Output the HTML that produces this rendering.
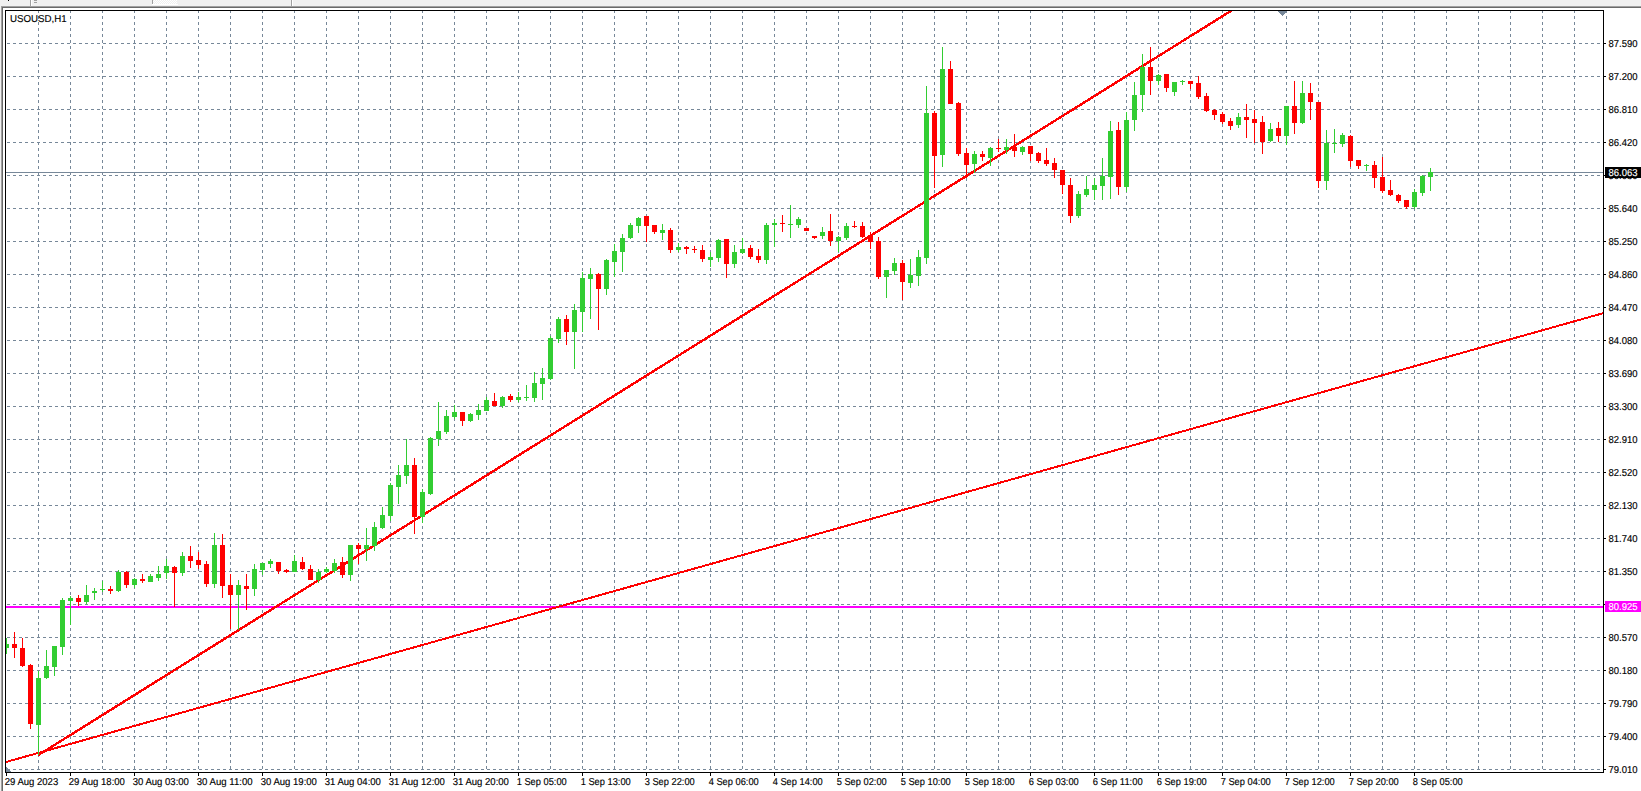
<!DOCTYPE html><html><head><meta charset="utf-8"><title>USOUSD,H1</title><style>
html,body{margin:0;padding:0;background:#fff;width:1641px;height:791px;overflow:hidden}
svg{display:block;font-family:"Liberation Sans",sans-serif}
</style></head><body>
<svg width="1641" height="791" viewBox="0 0 1641 791">
<rect x="0" y="0" width="1641" height="791" fill="#fff"/>
<g shape-rendering="crispEdges">
<rect x="0" y="0" width="1641" height="6" fill="#F0F0F0"/>
<rect x="0" y="6" width="1641" height="1" fill="#A0A0A0"/>
<rect x="1" y="7" width="1640" height="1" fill="#696969"/>
<rect x="0" y="6" width="1" height="785" fill="#F0F0F0"/>
<rect x="1" y="6" width="1" height="785" fill="#A0A0A0"/>
<rect x="2" y="7" width="1" height="784" fill="#696969"/>
<rect x="30" y="0" width="1" height="6" fill="#A0A0A0"/><rect x="31" y="0" width="1" height="6" fill="#FFFFFF"/>
<rect x="34" y="0" width="3" height="1" fill="#A0A0A0"/><rect x="34" y="2" width="3" height="1" fill="#A0A0A0"/>
<rect x="8" y="0" width="1" height="1" fill="#000"/>
<defs><pattern id="chk" x="0" y="0" width="2" height="2" patternUnits="userSpaceOnUse"><rect width="2" height="2" fill="#F0F0F0"/><rect width="1" height="1" fill="#FFFFFF"/><rect x="1" y="1" width="1" height="1" fill="#FFFFFF"/></pattern></defs>
<rect x="152" y="0" width="1" height="4" fill="#A0A0A0"/><rect x="153" y="0" width="24" height="4" fill="url(#chk)"/><rect x="152" y="4" width="26" height="1" fill="#FFFFFF"/>
<rect x="291" y="0" width="1" height="6" fill="#A0A0A0"/><rect x="292" y="0" width="1" height="6" fill="#FFFFFF"/>
</g>
<defs><clipPath id="ch"><rect x="6" y="11" width="1597" height="761"/></clipPath></defs>
<g clip-path="url(#ch)" shape-rendering="crispEdges">
<path d="M38.5 10V772M70.5 10V772M102.5 10V772M134.5 10V772M166.5 10V772M198.5 10V772M230.5 10V772M262.5 10V772M294.5 10V772M326.5 10V772M358.5 10V772M390.5 10V772M422.5 10V772M454.5 10V772M486.5 10V772M518.5 10V772M550.5 10V772M582.5 10V772M614.5 10V772M646.5 10V772M678.5 10V772M710.5 10V772M742.5 10V772M774.5 10V772M806.5 10V772M838.5 10V772M870.5 10V772M902.5 10V772M934.5 10V772M966.5 10V772M998.5 10V772M1030.5 10V772M1062.5 10V772M1094.5 10V772M1126.5 10V772M1158.5 10V772M1190.5 10V772M1222.5 10V772M1254.5 10V772M1286.5 10V772M1318.5 10V772M1350.5 10V772M1382.5 10V772M1414.5 10V772M1446.5 10V772M1478.5 10V772M1510.5 10V772M1542.5 10V772M1574.5 10V772" stroke="#778899" stroke-width="1" stroke-dasharray="3 3" fill="none"/>
<path d="M1 43.5H1603M1 76.5H1603M1 109.5H1603M1 142.5H1603M1 175.5H1603M1 208.5H1603M1 241.5H1603M1 274.5H1603M1 307.5H1603M1 340.5H1603M1 373.5H1603M1 406.5H1603M1 439.5H1603M1 472.5H1603M1 505.5H1603M1 538.5H1603M1 571.5H1603M1 604.5H1603M1 637.5H1603M1 670.5H1603M1 703.5H1603M1 736.5H1603M1 769.5H1603" stroke="#778899" stroke-width="1" stroke-dasharray="3 3" fill="none"/>
<rect x="6" y="172" width="1597" height="1" fill="#778899"/>
<rect x="6" y="606" width="1597" height="2" fill="#FF00FF"/>
<line x1="0" y1="763.69" x2="1603" y2="313.24" stroke="#FF0000" stroke-width="2"/>
<line x1="38" y1="755.25" x2="1300" y2="-32.24" stroke="#FF0000" stroke-width="2.4"/>
<rect x="6" y="638" width="1" height="16" fill="#32CD32"/>
<rect x="4" y="644" width="5" height="4" fill="#32CD32"/>
<rect x="14" y="632" width="1" height="26" fill="#FF0000"/>
<rect x="12" y="644" width="5" height="4" fill="#FF0000"/>
<rect x="22" y="638" width="1" height="29" fill="#FF0000"/>
<rect x="20" y="648" width="5" height="18" fill="#FF0000"/>
<rect x="30" y="664" width="1" height="65" fill="#FF0000"/>
<rect x="28" y="665" width="5" height="59" fill="#FF0000"/>
<rect x="38" y="671" width="1" height="84" fill="#32CD32"/>
<rect x="36" y="678" width="5" height="47" fill="#32CD32"/>
<rect x="46" y="650" width="1" height="29" fill="#32CD32"/>
<rect x="44" y="666" width="5" height="12" fill="#32CD32"/>
<rect x="54" y="646" width="1" height="30" fill="#32CD32"/>
<rect x="52" y="646" width="5" height="21" fill="#32CD32"/>
<rect x="62" y="598" width="1" height="57" fill="#32CD32"/>
<rect x="60" y="600" width="5" height="47" fill="#32CD32"/>
<rect x="70" y="596" width="1" height="29" fill="#32CD32"/>
<rect x="68" y="598" width="5" height="3" fill="#32CD32"/>
<rect x="78" y="595" width="1" height="11" fill="#FF0000"/>
<rect x="76" y="598" width="5" height="4" fill="#FF0000"/>
<rect x="86" y="585" width="1" height="19" fill="#32CD32"/>
<rect x="84" y="595" width="5" height="7" fill="#32CD32"/>
<rect x="94" y="588" width="1" height="12" fill="#32CD32"/>
<rect x="92" y="591" width="5" height="2" fill="#32CD32"/>
<rect x="102" y="581" width="1" height="11" fill="#32CD32"/>
<rect x="100" y="589" width="5" height="1" fill="#32CD32"/>
<rect x="110" y="586" width="1" height="8" fill="#FF0000"/>
<rect x="108" y="589" width="5" height="2" fill="#FF0000"/>
<rect x="118" y="570" width="1" height="22" fill="#32CD32"/>
<rect x="116" y="572" width="5" height="19" fill="#32CD32"/>
<rect x="126" y="571" width="1" height="17" fill="#FF0000"/>
<rect x="124" y="572" width="5" height="13" fill="#FF0000"/>
<rect x="134" y="578" width="1" height="10" fill="#32CD32"/>
<rect x="132" y="579" width="5" height="6" fill="#32CD32"/>
<rect x="142" y="574" width="1" height="9" fill="#FF0000"/>
<rect x="140" y="579" width="5" height="2" fill="#FF0000"/>
<rect x="150" y="574" width="1" height="8" fill="#32CD32"/>
<rect x="148" y="576" width="5" height="6" fill="#32CD32"/>
<rect x="158" y="566" width="1" height="15" fill="#32CD32"/>
<rect x="156" y="574" width="5" height="4" fill="#32CD32"/>
<rect x="166" y="559" width="1" height="20" fill="#32CD32"/>
<rect x="164" y="566" width="5" height="7" fill="#32CD32"/>
<rect x="174" y="566" width="1" height="41" fill="#FF0000"/>
<rect x="172" y="567" width="5" height="6" fill="#FF0000"/>
<rect x="182" y="552" width="1" height="24" fill="#32CD32"/>
<rect x="180" y="556" width="5" height="17" fill="#32CD32"/>
<rect x="190" y="546" width="1" height="22" fill="#FF0000"/>
<rect x="188" y="556" width="5" height="5" fill="#FF0000"/>
<rect x="198" y="552" width="1" height="17" fill="#FF0000"/>
<rect x="196" y="560" width="5" height="5" fill="#FF0000"/>
<rect x="206" y="561" width="1" height="26" fill="#FF0000"/>
<rect x="204" y="564" width="5" height="20" fill="#FF0000"/>
<rect x="214" y="533" width="1" height="55" fill="#32CD32"/>
<rect x="212" y="545" width="5" height="39" fill="#32CD32"/>
<rect x="222" y="534" width="1" height="64" fill="#FF0000"/>
<rect x="220" y="545" width="5" height="41" fill="#FF0000"/>
<rect x="230" y="574" width="1" height="55" fill="#FF0000"/>
<rect x="228" y="585" width="5" height="10" fill="#FF0000"/>
<rect x="238" y="580" width="1" height="50" fill="#32CD32"/>
<rect x="236" y="585" width="5" height="10" fill="#32CD32"/>
<rect x="246" y="574" width="1" height="36" fill="#FF0000"/>
<rect x="244" y="586" width="5" height="3" fill="#FF0000"/>
<rect x="254" y="564" width="1" height="32" fill="#32CD32"/>
<rect x="252" y="569" width="5" height="20" fill="#32CD32"/>
<rect x="262" y="563" width="1" height="12" fill="#32CD32"/>
<rect x="260" y="563" width="5" height="7" fill="#32CD32"/>
<rect x="270" y="559" width="1" height="9" fill="#32CD32"/>
<rect x="268" y="561" width="5" height="3" fill="#32CD32"/>
<rect x="278" y="562" width="1" height="12" fill="#FF0000"/>
<rect x="276" y="562" width="5" height="9" fill="#FF0000"/>
<rect x="286" y="569" width="1" height="4" fill="#FF0000"/>
<rect x="284" y="570" width="5" height="2" fill="#FF0000"/>
<rect x="294" y="555" width="1" height="17" fill="#32CD32"/>
<rect x="292" y="561" width="5" height="11" fill="#32CD32"/>
<rect x="302" y="557" width="1" height="13" fill="#FF0000"/>
<rect x="300" y="562" width="5" height="7" fill="#FF0000"/>
<rect x="310" y="565" width="1" height="15" fill="#FF0000"/>
<rect x="308" y="569" width="5" height="11" fill="#FF0000"/>
<rect x="318" y="569" width="1" height="14" fill="#32CD32"/>
<rect x="316" y="572" width="5" height="8" fill="#32CD32"/>
<rect x="326" y="567" width="1" height="6" fill="#32CD32"/>
<rect x="324" y="569" width="5" height="3" fill="#32CD32"/>
<rect x="334" y="559" width="1" height="14" fill="#32CD32"/>
<rect x="332" y="563" width="5" height="8" fill="#32CD32"/>
<rect x="342" y="557" width="1" height="21" fill="#FF0000"/>
<rect x="340" y="562" width="5" height="13" fill="#FF0000"/>
<rect x="350" y="545" width="1" height="36" fill="#32CD32"/>
<rect x="348" y="545" width="5" height="30" fill="#32CD32"/>
<rect x="358" y="543" width="1" height="21" fill="#FF0000"/>
<rect x="356" y="545" width="5" height="4" fill="#FF0000"/>
<rect x="366" y="528" width="1" height="33" fill="#32CD32"/>
<rect x="364" y="545" width="5" height="4" fill="#32CD32"/>
<rect x="374" y="522" width="1" height="29" fill="#32CD32"/>
<rect x="372" y="527" width="5" height="19" fill="#32CD32"/>
<rect x="382" y="507" width="1" height="22" fill="#32CD32"/>
<rect x="380" y="515" width="5" height="13" fill="#32CD32"/>
<rect x="390" y="483" width="1" height="38" fill="#32CD32"/>
<rect x="388" y="485" width="5" height="31" fill="#32CD32"/>
<rect x="398" y="465" width="1" height="39" fill="#32CD32"/>
<rect x="396" y="475" width="5" height="12" fill="#32CD32"/>
<rect x="406" y="439" width="1" height="45" fill="#32CD32"/>
<rect x="404" y="465" width="5" height="11" fill="#32CD32"/>
<rect x="414" y="458" width="1" height="76" fill="#FF0000"/>
<rect x="412" y="465" width="5" height="52" fill="#FF0000"/>
<rect x="422" y="489" width="1" height="34" fill="#32CD32"/>
<rect x="420" y="492" width="5" height="25" fill="#32CD32"/>
<rect x="430" y="437" width="1" height="58" fill="#32CD32"/>
<rect x="428" y="438" width="5" height="56" fill="#32CD32"/>
<rect x="438" y="402" width="1" height="44" fill="#32CD32"/>
<rect x="436" y="431" width="5" height="8" fill="#32CD32"/>
<rect x="446" y="410" width="1" height="24" fill="#32CD32"/>
<rect x="444" y="416" width="5" height="16" fill="#32CD32"/>
<rect x="454" y="405" width="1" height="14" fill="#32CD32"/>
<rect x="452" y="412" width="5" height="5" fill="#32CD32"/>
<rect x="462" y="412" width="1" height="14" fill="#FF0000"/>
<rect x="460" y="412" width="5" height="9" fill="#FF0000"/>
<rect x="470" y="413" width="1" height="9" fill="#32CD32"/>
<rect x="468" y="414" width="5" height="7" fill="#32CD32"/>
<rect x="478" y="404" width="1" height="16" fill="#32CD32"/>
<rect x="476" y="410" width="5" height="5" fill="#32CD32"/>
<rect x="486" y="397" width="1" height="14" fill="#32CD32"/>
<rect x="484" y="400" width="5" height="11" fill="#32CD32"/>
<rect x="494" y="393" width="1" height="13" fill="#FF0000"/>
<rect x="492" y="401" width="5" height="5" fill="#FF0000"/>
<rect x="502" y="396" width="1" height="12" fill="#32CD32"/>
<rect x="500" y="397" width="5" height="9" fill="#32CD32"/>
<rect x="510" y="394" width="1" height="8" fill="#FF0000"/>
<rect x="508" y="396" width="5" height="4" fill="#FF0000"/>
<rect x="518" y="392" width="1" height="10" fill="#32CD32"/>
<rect x="516" y="397" width="5" height="3" fill="#32CD32"/>
<rect x="526" y="385" width="1" height="16" fill="#32CD32"/>
<rect x="524" y="397" width="5" height="1" fill="#32CD32"/>
<rect x="534" y="372" width="1" height="30" fill="#32CD32"/>
<rect x="532" y="383" width="5" height="15" fill="#32CD32"/>
<rect x="542" y="368" width="1" height="32" fill="#32CD32"/>
<rect x="540" y="378" width="5" height="6" fill="#32CD32"/>
<rect x="550" y="336" width="1" height="44" fill="#32CD32"/>
<rect x="548" y="338" width="5" height="41" fill="#32CD32"/>
<rect x="558" y="317" width="1" height="26" fill="#32CD32"/>
<rect x="556" y="319" width="5" height="20" fill="#32CD32"/>
<rect x="566" y="315" width="1" height="30" fill="#FF0000"/>
<rect x="564" y="319" width="5" height="13" fill="#FF0000"/>
<rect x="574" y="304" width="1" height="65" fill="#32CD32"/>
<rect x="572" y="310" width="5" height="22" fill="#32CD32"/>
<rect x="582" y="272" width="1" height="60" fill="#32CD32"/>
<rect x="580" y="278" width="5" height="34" fill="#32CD32"/>
<rect x="590" y="268" width="1" height="51" fill="#32CD32"/>
<rect x="588" y="274" width="5" height="5" fill="#32CD32"/>
<rect x="598" y="273" width="1" height="57" fill="#FF0000"/>
<rect x="596" y="274" width="5" height="15" fill="#FF0000"/>
<rect x="606" y="259" width="1" height="36" fill="#32CD32"/>
<rect x="604" y="260" width="5" height="29" fill="#32CD32"/>
<rect x="614" y="244" width="1" height="33" fill="#32CD32"/>
<rect x="612" y="251" width="5" height="11" fill="#32CD32"/>
<rect x="622" y="234" width="1" height="38" fill="#32CD32"/>
<rect x="620" y="238" width="5" height="14" fill="#32CD32"/>
<rect x="630" y="223" width="1" height="16" fill="#32CD32"/>
<rect x="628" y="225" width="5" height="13" fill="#32CD32"/>
<rect x="638" y="217" width="1" height="16" fill="#32CD32"/>
<rect x="636" y="218" width="5" height="8" fill="#32CD32"/>
<rect x="646" y="216" width="1" height="26" fill="#FF0000"/>
<rect x="644" y="216" width="5" height="10" fill="#FF0000"/>
<rect x="654" y="225" width="1" height="9" fill="#FF0000"/>
<rect x="652" y="225" width="5" height="7" fill="#FF0000"/>
<rect x="662" y="224" width="1" height="16" fill="#32CD32"/>
<rect x="660" y="230" width="5" height="3" fill="#32CD32"/>
<rect x="670" y="228" width="1" height="25" fill="#FF0000"/>
<rect x="668" y="230" width="5" height="20" fill="#FF0000"/>
<rect x="678" y="243" width="1" height="9" fill="#32CD32"/>
<rect x="676" y="247" width="5" height="3" fill="#32CD32"/>
<rect x="686" y="246" width="1" height="8" fill="#FF0000"/>
<rect x="684" y="247" width="5" height="2" fill="#FF0000"/>
<rect x="694" y="246" width="1" height="7" fill="#FF0000"/>
<rect x="692" y="249" width="5" height="1" fill="#FF0000"/>
<rect x="702" y="245" width="1" height="17" fill="#FF0000"/>
<rect x="700" y="250" width="5" height="9" fill="#FF0000"/>
<rect x="710" y="252" width="1" height="15" fill="#32CD32"/>
<rect x="708" y="257" width="5" height="3" fill="#32CD32"/>
<rect x="718" y="239" width="1" height="23" fill="#32CD32"/>
<rect x="716" y="240" width="5" height="18" fill="#32CD32"/>
<rect x="726" y="239" width="1" height="39" fill="#FF0000"/>
<rect x="724" y="239" width="5" height="25" fill="#FF0000"/>
<rect x="734" y="245" width="1" height="23" fill="#32CD32"/>
<rect x="732" y="252" width="5" height="12" fill="#32CD32"/>
<rect x="742" y="238" width="1" height="16" fill="#32CD32"/>
<rect x="740" y="249" width="5" height="4" fill="#32CD32"/>
<rect x="750" y="245" width="1" height="14" fill="#FF0000"/>
<rect x="748" y="248" width="5" height="9" fill="#FF0000"/>
<rect x="758" y="249" width="1" height="14" fill="#FF0000"/>
<rect x="756" y="256" width="5" height="4" fill="#FF0000"/>
<rect x="766" y="223" width="1" height="41" fill="#32CD32"/>
<rect x="764" y="225" width="5" height="35" fill="#32CD32"/>
<rect x="774" y="219" width="1" height="28" fill="#32CD32"/>
<rect x="772" y="223" width="5" height="2" fill="#32CD32"/>
<rect x="782" y="215" width="1" height="17" fill="#FF0000"/>
<rect x="780" y="223" width="5" height="1" fill="#FF0000"/>
<rect x="790" y="205" width="1" height="33" fill="#32CD32"/>
<rect x="788" y="224" width="5" height="1" fill="#32CD32"/>
<rect x="798" y="217" width="1" height="11" fill="#32CD32"/>
<rect x="796" y="219" width="5" height="6" fill="#32CD32"/>
<rect x="806" y="228" width="1" height="3" fill="#FF0000"/>
<rect x="804" y="228" width="5" height="3" fill="#FF0000"/>
<rect x="814" y="236" width="1" height="3" fill="#FF0000"/>
<rect x="812" y="236" width="5" height="2" fill="#FF0000"/>
<rect x="822" y="227" width="1" height="12" fill="#32CD32"/>
<rect x="820" y="232" width="5" height="4" fill="#32CD32"/>
<rect x="830" y="214" width="1" height="32" fill="#FF0000"/>
<rect x="828" y="231" width="5" height="10" fill="#FF0000"/>
<rect x="838" y="236" width="1" height="16" fill="#32CD32"/>
<rect x="836" y="237" width="5" height="4" fill="#32CD32"/>
<rect x="846" y="223" width="1" height="17" fill="#32CD32"/>
<rect x="844" y="226" width="5" height="12" fill="#32CD32"/>
<rect x="854" y="221" width="1" height="7" fill="#FF0000"/>
<rect x="852" y="226" width="5" height="1" fill="#FF0000"/>
<rect x="862" y="222" width="1" height="16" fill="#FF0000"/>
<rect x="860" y="226" width="5" height="11" fill="#FF0000"/>
<rect x="870" y="232" width="1" height="17" fill="#FF0000"/>
<rect x="868" y="235" width="5" height="7" fill="#FF0000"/>
<rect x="878" y="237" width="1" height="42" fill="#FF0000"/>
<rect x="876" y="241" width="5" height="36" fill="#FF0000"/>
<rect x="886" y="270" width="1" height="28" fill="#32CD32"/>
<rect x="884" y="270" width="5" height="7" fill="#32CD32"/>
<rect x="894" y="258" width="1" height="17" fill="#32CD32"/>
<rect x="892" y="263" width="5" height="8" fill="#32CD32"/>
<rect x="902" y="260" width="1" height="40" fill="#FF0000"/>
<rect x="900" y="263" width="5" height="19" fill="#FF0000"/>
<rect x="910" y="259" width="1" height="29" fill="#32CD32"/>
<rect x="908" y="275" width="5" height="8" fill="#32CD32"/>
<rect x="918" y="250" width="1" height="36" fill="#32CD32"/>
<rect x="916" y="257" width="5" height="19" fill="#32CD32"/>
<rect x="926" y="86" width="1" height="178" fill="#32CD32"/>
<rect x="924" y="113" width="5" height="145" fill="#32CD32"/>
<rect x="934" y="111" width="1" height="77" fill="#FF0000"/>
<rect x="932" y="113" width="5" height="43" fill="#FF0000"/>
<rect x="942" y="47" width="1" height="120" fill="#32CD32"/>
<rect x="940" y="69" width="5" height="86" fill="#32CD32"/>
<rect x="950" y="61" width="1" height="43" fill="#FF0000"/>
<rect x="948" y="69" width="5" height="35" fill="#FF0000"/>
<rect x="958" y="102" width="1" height="54" fill="#FF0000"/>
<rect x="956" y="103" width="5" height="51" fill="#FF0000"/>
<rect x="966" y="148" width="1" height="30" fill="#FF0000"/>
<rect x="964" y="153" width="5" height="12" fill="#FF0000"/>
<rect x="974" y="151" width="1" height="22" fill="#32CD32"/>
<rect x="972" y="154" width="5" height="10" fill="#32CD32"/>
<rect x="982" y="151" width="1" height="10" fill="#FF0000"/>
<rect x="980" y="154" width="5" height="3" fill="#FF0000"/>
<rect x="990" y="147" width="1" height="19" fill="#32CD32"/>
<rect x="988" y="148" width="5" height="10" fill="#32CD32"/>
<rect x="998" y="139" width="1" height="13" fill="#FF0000"/>
<rect x="996" y="148" width="5" height="1" fill="#FF0000"/>
<rect x="1006" y="139" width="1" height="15" fill="#32CD32"/>
<rect x="1004" y="147" width="5" height="3" fill="#32CD32"/>
<rect x="1014" y="134" width="1" height="23" fill="#FF0000"/>
<rect x="1012" y="147" width="5" height="4" fill="#FF0000"/>
<rect x="1022" y="146" width="1" height="9" fill="#32CD32"/>
<rect x="1020" y="147" width="5" height="5" fill="#32CD32"/>
<rect x="1030" y="146" width="1" height="15" fill="#FF0000"/>
<rect x="1028" y="146" width="5" height="8" fill="#FF0000"/>
<rect x="1038" y="152" width="1" height="11" fill="#FF0000"/>
<rect x="1036" y="153" width="5" height="8" fill="#FF0000"/>
<rect x="1046" y="148" width="1" height="18" fill="#FF0000"/>
<rect x="1044" y="160" width="5" height="4" fill="#FF0000"/>
<rect x="1054" y="158" width="1" height="20" fill="#FF0000"/>
<rect x="1052" y="163" width="5" height="7" fill="#FF0000"/>
<rect x="1062" y="170" width="1" height="24" fill="#FF0000"/>
<rect x="1060" y="170" width="5" height="15" fill="#FF0000"/>
<rect x="1070" y="178" width="1" height="45" fill="#FF0000"/>
<rect x="1068" y="185" width="5" height="31" fill="#FF0000"/>
<rect x="1078" y="191" width="1" height="27" fill="#32CD32"/>
<rect x="1076" y="194" width="5" height="22" fill="#32CD32"/>
<rect x="1086" y="176" width="1" height="21" fill="#32CD32"/>
<rect x="1084" y="189" width="5" height="6" fill="#32CD32"/>
<rect x="1094" y="178" width="1" height="22" fill="#32CD32"/>
<rect x="1092" y="185" width="5" height="5" fill="#32CD32"/>
<rect x="1102" y="158" width="1" height="42" fill="#32CD32"/>
<rect x="1100" y="176" width="5" height="10" fill="#32CD32"/>
<rect x="1110" y="121" width="1" height="78" fill="#32CD32"/>
<rect x="1108" y="131" width="5" height="46" fill="#32CD32"/>
<rect x="1118" y="122" width="1" height="73" fill="#FF0000"/>
<rect x="1116" y="130" width="5" height="57" fill="#FF0000"/>
<rect x="1126" y="112" width="1" height="80" fill="#32CD32"/>
<rect x="1124" y="120" width="5" height="67" fill="#32CD32"/>
<rect x="1134" y="82" width="1" height="49" fill="#32CD32"/>
<rect x="1132" y="95" width="5" height="25" fill="#32CD32"/>
<rect x="1142" y="54" width="1" height="58" fill="#32CD32"/>
<rect x="1140" y="67" width="5" height="28" fill="#32CD32"/>
<rect x="1150" y="47" width="1" height="48" fill="#FF0000"/>
<rect x="1148" y="67" width="5" height="14" fill="#FF0000"/>
<rect x="1158" y="74" width="1" height="11" fill="#32CD32"/>
<rect x="1156" y="75" width="5" height="6" fill="#32CD32"/>
<rect x="1166" y="74" width="1" height="18" fill="#FF0000"/>
<rect x="1164" y="74" width="5" height="14" fill="#FF0000"/>
<rect x="1174" y="82" width="1" height="14" fill="#32CD32"/>
<rect x="1172" y="82" width="5" height="10" fill="#32CD32"/>
<rect x="1182" y="80" width="1" height="5" fill="#32CD32"/>
<rect x="1180" y="81" width="5" height="1" fill="#32CD32"/>
<rect x="1190" y="81" width="1" height="8" fill="#FF0000"/>
<rect x="1188" y="81" width="5" height="3" fill="#FF0000"/>
<rect x="1198" y="76" width="1" height="23" fill="#FF0000"/>
<rect x="1196" y="83" width="5" height="14" fill="#FF0000"/>
<rect x="1206" y="93" width="1" height="19" fill="#FF0000"/>
<rect x="1204" y="96" width="5" height="15" fill="#FF0000"/>
<rect x="1214" y="109" width="1" height="11" fill="#FF0000"/>
<rect x="1212" y="110" width="5" height="5" fill="#FF0000"/>
<rect x="1222" y="112" width="1" height="12" fill="#FF0000"/>
<rect x="1220" y="114" width="5" height="8" fill="#FF0000"/>
<rect x="1230" y="118" width="1" height="12" fill="#FF0000"/>
<rect x="1228" y="121" width="5" height="5" fill="#FF0000"/>
<rect x="1238" y="113" width="1" height="15" fill="#32CD32"/>
<rect x="1236" y="117" width="5" height="8" fill="#32CD32"/>
<rect x="1246" y="104" width="1" height="34" fill="#FF0000"/>
<rect x="1244" y="117" width="5" height="3" fill="#FF0000"/>
<rect x="1254" y="110" width="1" height="33" fill="#FF0000"/>
<rect x="1252" y="119" width="5" height="4" fill="#FF0000"/>
<rect x="1262" y="116" width="1" height="38" fill="#FF0000"/>
<rect x="1260" y="122" width="5" height="20" fill="#FF0000"/>
<rect x="1270" y="123" width="1" height="19" fill="#32CD32"/>
<rect x="1268" y="129" width="5" height="12" fill="#32CD32"/>
<rect x="1278" y="122" width="1" height="20" fill="#FF0000"/>
<rect x="1276" y="128" width="5" height="8" fill="#FF0000"/>
<rect x="1286" y="106" width="1" height="39" fill="#32CD32"/>
<rect x="1284" y="106" width="5" height="30" fill="#32CD32"/>
<rect x="1294" y="81" width="1" height="53" fill="#FF0000"/>
<rect x="1292" y="106" width="5" height="17" fill="#FF0000"/>
<rect x="1302" y="81" width="1" height="43" fill="#32CD32"/>
<rect x="1300" y="93" width="5" height="30" fill="#32CD32"/>
<rect x="1310" y="83" width="1" height="37" fill="#FF0000"/>
<rect x="1308" y="93" width="5" height="9" fill="#FF0000"/>
<rect x="1318" y="102" width="1" height="86" fill="#FF0000"/>
<rect x="1316" y="102" width="5" height="79" fill="#FF0000"/>
<rect x="1326" y="130" width="1" height="60" fill="#32CD32"/>
<rect x="1324" y="143" width="5" height="38" fill="#32CD32"/>
<rect x="1334" y="129" width="1" height="24" fill="#32CD32"/>
<rect x="1332" y="143" width="5" height="1" fill="#32CD32"/>
<rect x="1342" y="133" width="1" height="14" fill="#32CD32"/>
<rect x="1340" y="135" width="5" height="9" fill="#32CD32"/>
<rect x="1350" y="135" width="1" height="32" fill="#FF0000"/>
<rect x="1348" y="136" width="5" height="25" fill="#FF0000"/>
<rect x="1358" y="160" width="1" height="9" fill="#FF0000"/>
<rect x="1356" y="160" width="5" height="6" fill="#FF0000"/>
<rect x="1366" y="164" width="1" height="7" fill="#32CD32"/>
<rect x="1364" y="165" width="5" height="1" fill="#32CD32"/>
<rect x="1374" y="161" width="1" height="27" fill="#FF0000"/>
<rect x="1372" y="165" width="5" height="13" fill="#FF0000"/>
<rect x="1382" y="157" width="1" height="36" fill="#FF0000"/>
<rect x="1380" y="177" width="5" height="14" fill="#FF0000"/>
<rect x="1390" y="180" width="1" height="16" fill="#FF0000"/>
<rect x="1388" y="190" width="5" height="5" fill="#FF0000"/>
<rect x="1398" y="194" width="1" height="9" fill="#FF0000"/>
<rect x="1396" y="195" width="5" height="6" fill="#FF0000"/>
<rect x="1406" y="200" width="1" height="9" fill="#FF0000"/>
<rect x="1404" y="200" width="5" height="7" fill="#FF0000"/>
<rect x="1414" y="189" width="1" height="20" fill="#32CD32"/>
<rect x="1412" y="192" width="5" height="15" fill="#32CD32"/>
<rect x="1422" y="175" width="1" height="21" fill="#32CD32"/>
<rect x="1420" y="176" width="5" height="17" fill="#32CD32"/>
<rect x="1430" y="168" width="1" height="23" fill="#32CD32"/>
<rect x="1428" y="172" width="5" height="5" fill="#32CD32"/>
<path d="M6 767L11 772H6Z" fill="#778899"/>
<path d="M1277.5 11H1287.5L1282.5 16Z" fill="#778899"/>
</g>
<g shape-rendering="crispEdges" fill="#000">
<rect x="5" y="10" width="1599" height="1"/>
<rect x="5" y="772" width="1599" height="1"/>
<rect x="5" y="10" width="1" height="763"/>
<rect x="1603" y="10" width="1" height="763"/>
</g>
<text transform="translate(10.00 22.00) scale(0.9700 1)" font-size="10.00" fill="#000" stroke="#000" stroke-width="0.15" text-rendering="geometricPrecision" xml:space="preserve">USOUSD,H1</text>
<g shape-rendering="crispEdges" fill="#000">
<rect x="1604" y="43" width="2" height="1"/>
<rect x="1604" y="76" width="2" height="1"/>
<rect x="1604" y="109" width="2" height="1"/>
<rect x="1604" y="142" width="2" height="1"/>
<rect x="1604" y="175" width="2" height="1"/>
<rect x="1604" y="208" width="2" height="1"/>
<rect x="1604" y="241" width="2" height="1"/>
<rect x="1604" y="274" width="2" height="1"/>
<rect x="1604" y="307" width="2" height="1"/>
<rect x="1604" y="340" width="2" height="1"/>
<rect x="1604" y="373" width="2" height="1"/>
<rect x="1604" y="406" width="2" height="1"/>
<rect x="1604" y="439" width="2" height="1"/>
<rect x="1604" y="472" width="2" height="1"/>
<rect x="1604" y="505" width="2" height="1"/>
<rect x="1604" y="538" width="2" height="1"/>
<rect x="1604" y="571" width="2" height="1"/>
<rect x="1604" y="604" width="2" height="1"/>
<rect x="1604" y="637" width="2" height="1"/>
<rect x="1604" y="670" width="2" height="1"/>
<rect x="1604" y="703" width="2" height="1"/>
<rect x="1604" y="736" width="2" height="1"/>
<rect x="1604" y="769" width="2" height="1"/>
</g>
<text transform="translate(1608.50 47.00) scale(0.9500 1)" font-size="10.00" fill="#000" stroke="#000" stroke-width="0.15" text-rendering="geometricPrecision" xml:space="preserve">87.590</text>
<text transform="translate(1608.50 80.00) scale(0.9500 1)" font-size="10.00" fill="#000" stroke="#000" stroke-width="0.15" text-rendering="geometricPrecision" xml:space="preserve">87.200</text>
<text transform="translate(1608.50 113.00) scale(0.9500 1)" font-size="10.00" fill="#000" stroke="#000" stroke-width="0.15" text-rendering="geometricPrecision" xml:space="preserve">86.810</text>
<text transform="translate(1608.50 146.00) scale(0.9500 1)" font-size="10.00" fill="#000" stroke="#000" stroke-width="0.15" text-rendering="geometricPrecision" xml:space="preserve">86.420</text>
<text transform="translate(1608.50 179.00) scale(0.9500 1)" font-size="10.00" fill="#000" stroke="#000" stroke-width="0.15" text-rendering="geometricPrecision" xml:space="preserve">86.030</text>
<text transform="translate(1608.50 212.00) scale(0.9500 1)" font-size="10.00" fill="#000" stroke="#000" stroke-width="0.15" text-rendering="geometricPrecision" xml:space="preserve">85.640</text>
<text transform="translate(1608.50 245.00) scale(0.9500 1)" font-size="10.00" fill="#000" stroke="#000" stroke-width="0.15" text-rendering="geometricPrecision" xml:space="preserve">85.250</text>
<text transform="translate(1608.50 278.00) scale(0.9500 1)" font-size="10.00" fill="#000" stroke="#000" stroke-width="0.15" text-rendering="geometricPrecision" xml:space="preserve">84.860</text>
<text transform="translate(1608.50 311.00) scale(0.9500 1)" font-size="10.00" fill="#000" stroke="#000" stroke-width="0.15" text-rendering="geometricPrecision" xml:space="preserve">84.470</text>
<text transform="translate(1608.50 344.00) scale(0.9500 1)" font-size="10.00" fill="#000" stroke="#000" stroke-width="0.15" text-rendering="geometricPrecision" xml:space="preserve">84.080</text>
<text transform="translate(1608.50 377.00) scale(0.9500 1)" font-size="10.00" fill="#000" stroke="#000" stroke-width="0.15" text-rendering="geometricPrecision" xml:space="preserve">83.690</text>
<text transform="translate(1608.50 410.00) scale(0.9500 1)" font-size="10.00" fill="#000" stroke="#000" stroke-width="0.15" text-rendering="geometricPrecision" xml:space="preserve">83.300</text>
<text transform="translate(1608.50 443.00) scale(0.9500 1)" font-size="10.00" fill="#000" stroke="#000" stroke-width="0.15" text-rendering="geometricPrecision" xml:space="preserve">82.910</text>
<text transform="translate(1608.50 476.00) scale(0.9500 1)" font-size="10.00" fill="#000" stroke="#000" stroke-width="0.15" text-rendering="geometricPrecision" xml:space="preserve">82.520</text>
<text transform="translate(1608.50 509.00) scale(0.9500 1)" font-size="10.00" fill="#000" stroke="#000" stroke-width="0.15" text-rendering="geometricPrecision" xml:space="preserve">82.130</text>
<text transform="translate(1608.50 542.00) scale(0.9500 1)" font-size="10.00" fill="#000" stroke="#000" stroke-width="0.15" text-rendering="geometricPrecision" xml:space="preserve">81.740</text>
<text transform="translate(1608.50 575.00) scale(0.9500 1)" font-size="10.00" fill="#000" stroke="#000" stroke-width="0.15" text-rendering="geometricPrecision" xml:space="preserve">81.350</text>
<text transform="translate(1608.50 608.00) scale(0.9500 1)" font-size="10.00" fill="#000" stroke="#000" stroke-width="0.15" text-rendering="geometricPrecision" xml:space="preserve">80.960</text>
<text transform="translate(1608.50 641.00) scale(0.9500 1)" font-size="10.00" fill="#000" stroke="#000" stroke-width="0.15" text-rendering="geometricPrecision" xml:space="preserve">80.570</text>
<text transform="translate(1608.50 674.00) scale(0.9500 1)" font-size="10.00" fill="#000" stroke="#000" stroke-width="0.15" text-rendering="geometricPrecision" xml:space="preserve">80.180</text>
<text transform="translate(1608.50 707.00) scale(0.9500 1)" font-size="10.00" fill="#000" stroke="#000" stroke-width="0.15" text-rendering="geometricPrecision" xml:space="preserve">79.790</text>
<text transform="translate(1608.50 740.00) scale(0.9500 1)" font-size="10.00" fill="#000" stroke="#000" stroke-width="0.15" text-rendering="geometricPrecision" xml:space="preserve">79.400</text>
<text transform="translate(1608.50 773.00) scale(0.9500 1)" font-size="10.00" fill="#000" stroke="#000" stroke-width="0.15" text-rendering="geometricPrecision" xml:space="preserve">79.010</text>
<rect x="1605" y="167" width="36" height="11" fill="#000" shape-rendering="crispEdges"/>
<text transform="translate(1608.50 176.00) scale(0.9500 1)" font-size="10.00" fill="#fff" stroke="#fff" stroke-width="0.15" text-rendering="geometricPrecision" xml:space="preserve">86.063</text>
<rect x="1605" y="601" width="36" height="11" fill="#FF00FF" shape-rendering="crispEdges"/>
<text transform="translate(1608.50 610.00) scale(0.9500 1)" font-size="10.00" fill="#fff" stroke="#fff" stroke-width="0.15" text-rendering="geometricPrecision" xml:space="preserve">80.925</text>
<g shape-rendering="crispEdges" fill="#000">
<rect x="6" y="773" width="1" height="3"/>
<rect x="70" y="773" width="1" height="3"/>
<rect x="134" y="773" width="1" height="3"/>
<rect x="198" y="773" width="1" height="3"/>
<rect x="262" y="773" width="1" height="3"/>
<rect x="326" y="773" width="1" height="3"/>
<rect x="390" y="773" width="1" height="3"/>
<rect x="454" y="773" width="1" height="3"/>
<rect x="518" y="773" width="1" height="3"/>
<rect x="582" y="773" width="1" height="3"/>
<rect x="646" y="773" width="1" height="3"/>
<rect x="710" y="773" width="1" height="3"/>
<rect x="774" y="773" width="1" height="3"/>
<rect x="838" y="773" width="1" height="3"/>
<rect x="902" y="773" width="1" height="3"/>
<rect x="966" y="773" width="1" height="3"/>
<rect x="1030" y="773" width="1" height="3"/>
<rect x="1094" y="773" width="1" height="3"/>
<rect x="1158" y="773" width="1" height="3"/>
<rect x="1222" y="773" width="1" height="3"/>
<rect x="1286" y="773" width="1" height="3"/>
<rect x="1350" y="773" width="1" height="3"/>
<rect x="1414" y="773" width="1" height="3"/>
</g>
<text x="4.70" y="785" font-size="10" textLength="53.50" lengthAdjust="spacingAndGlyphs" fill="#000" stroke="#000" stroke-width="0.15" text-rendering="geometricPrecision" xml:space="preserve">29 Aug 2023</text>
<text x="68.70" y="785" font-size="10" textLength="56.20" lengthAdjust="spacingAndGlyphs" fill="#000" stroke="#000" stroke-width="0.15" text-rendering="geometricPrecision" xml:space="preserve">29 Aug 18:00</text>
<text x="132.70" y="785" font-size="10" textLength="56.20" lengthAdjust="spacingAndGlyphs" fill="#000" stroke="#000" stroke-width="0.15" text-rendering="geometricPrecision" xml:space="preserve">30 Aug 03:00</text>
<text x="196.70" y="785" font-size="10" textLength="55.90" lengthAdjust="spacingAndGlyphs" fill="#000" stroke="#000" stroke-width="0.15" text-rendering="geometricPrecision" xml:space="preserve">30 Aug 11:00</text>
<text x="260.70" y="785" font-size="10" textLength="56.20" lengthAdjust="spacingAndGlyphs" fill="#000" stroke="#000" stroke-width="0.15" text-rendering="geometricPrecision" xml:space="preserve">30 Aug 19:00</text>
<text x="324.70" y="785" font-size="10" textLength="56.20" lengthAdjust="spacingAndGlyphs" fill="#000" stroke="#000" stroke-width="0.15" text-rendering="geometricPrecision" xml:space="preserve">31 Aug 04:00</text>
<text x="388.70" y="785" font-size="10" textLength="56.20" lengthAdjust="spacingAndGlyphs" fill="#000" stroke="#000" stroke-width="0.15" text-rendering="geometricPrecision" xml:space="preserve">31 Aug 12:00</text>
<text x="452.70" y="785" font-size="10" textLength="56.20" lengthAdjust="spacingAndGlyphs" fill="#000" stroke="#000" stroke-width="0.15" text-rendering="geometricPrecision" xml:space="preserve">31 Aug 20:00</text>
<text x="516.70" y="785" font-size="10" textLength="50.00" lengthAdjust="spacingAndGlyphs" fill="#000" stroke="#000" stroke-width="0.15" text-rendering="geometricPrecision" xml:space="preserve">1 Sep 05:00</text>
<text x="580.70" y="785" font-size="10" textLength="50.00" lengthAdjust="spacingAndGlyphs" fill="#000" stroke="#000" stroke-width="0.15" text-rendering="geometricPrecision" xml:space="preserve">1 Sep 13:00</text>
<text x="644.70" y="785" font-size="10" textLength="50.00" lengthAdjust="spacingAndGlyphs" fill="#000" stroke="#000" stroke-width="0.15" text-rendering="geometricPrecision" xml:space="preserve">3 Sep 22:00</text>
<text x="708.70" y="785" font-size="10" textLength="50.00" lengthAdjust="spacingAndGlyphs" fill="#000" stroke="#000" stroke-width="0.15" text-rendering="geometricPrecision" xml:space="preserve">4 Sep 06:00</text>
<text x="772.70" y="785" font-size="10" textLength="50.00" lengthAdjust="spacingAndGlyphs" fill="#000" stroke="#000" stroke-width="0.15" text-rendering="geometricPrecision" xml:space="preserve">4 Sep 14:00</text>
<text x="836.70" y="785" font-size="10" textLength="50.00" lengthAdjust="spacingAndGlyphs" fill="#000" stroke="#000" stroke-width="0.15" text-rendering="geometricPrecision" xml:space="preserve">5 Sep 02:00</text>
<text x="900.70" y="785" font-size="10" textLength="50.00" lengthAdjust="spacingAndGlyphs" fill="#000" stroke="#000" stroke-width="0.15" text-rendering="geometricPrecision" xml:space="preserve">5 Sep 10:00</text>
<text x="964.70" y="785" font-size="10" textLength="50.00" lengthAdjust="spacingAndGlyphs" fill="#000" stroke="#000" stroke-width="0.15" text-rendering="geometricPrecision" xml:space="preserve">5 Sep 18:00</text>
<text x="1028.70" y="785" font-size="10" textLength="50.00" lengthAdjust="spacingAndGlyphs" fill="#000" stroke="#000" stroke-width="0.15" text-rendering="geometricPrecision" xml:space="preserve">6 Sep 03:00</text>
<text x="1092.70" y="785" font-size="10" textLength="50.00" lengthAdjust="spacingAndGlyphs" fill="#000" stroke="#000" stroke-width="0.15" text-rendering="geometricPrecision" xml:space="preserve">6 Sep 11:00</text>
<text x="1156.70" y="785" font-size="10" textLength="50.00" lengthAdjust="spacingAndGlyphs" fill="#000" stroke="#000" stroke-width="0.15" text-rendering="geometricPrecision" xml:space="preserve">6 Sep 19:00</text>
<text x="1220.70" y="785" font-size="10" textLength="50.00" lengthAdjust="spacingAndGlyphs" fill="#000" stroke="#000" stroke-width="0.15" text-rendering="geometricPrecision" xml:space="preserve">7 Sep 04:00</text>
<text x="1284.70" y="785" font-size="10" textLength="50.00" lengthAdjust="spacingAndGlyphs" fill="#000" stroke="#000" stroke-width="0.15" text-rendering="geometricPrecision" xml:space="preserve">7 Sep 12:00</text>
<text x="1348.70" y="785" font-size="10" textLength="50.00" lengthAdjust="spacingAndGlyphs" fill="#000" stroke="#000" stroke-width="0.15" text-rendering="geometricPrecision" xml:space="preserve">7 Sep 20:00</text>
<text x="1412.70" y="785" font-size="10" textLength="50.00" lengthAdjust="spacingAndGlyphs" fill="#000" stroke="#000" stroke-width="0.15" text-rendering="geometricPrecision" xml:space="preserve">8 Sep 05:00</text>
</svg></body></html>
